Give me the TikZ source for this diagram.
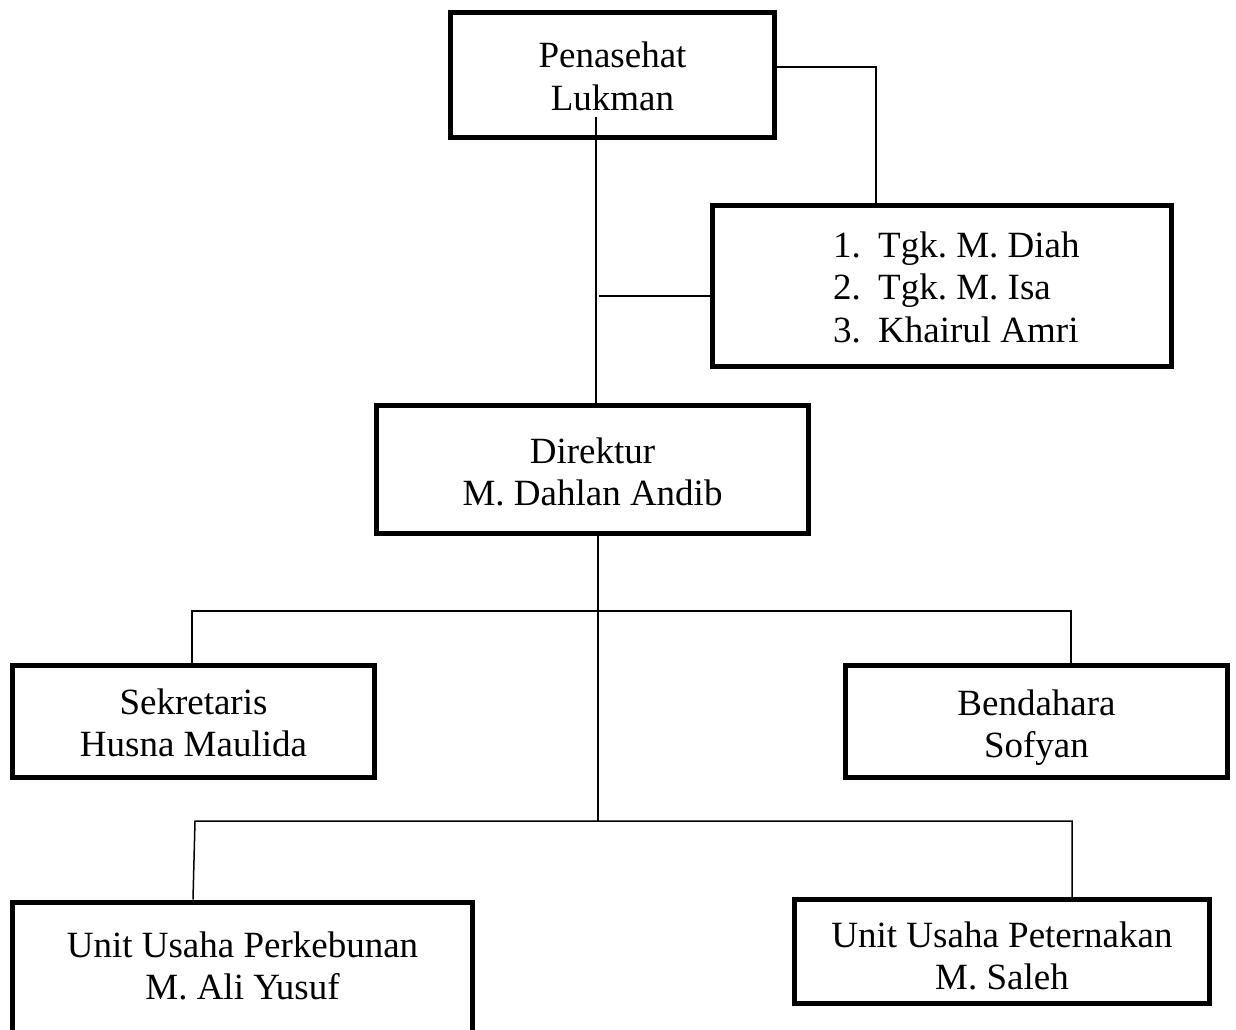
\documentclass[tikz,border=0pt]{standalone}
\usepackage{fontspec}
\setmainfont{Liberation Serif}
\begin{document}
\begin{tikzpicture}[x=1pt,y=-1pt,
  box/.style={draw, line width=5pt, rectangle, inner sep=0pt},
  txt/.style={inner sep=0pt, align=center, font=\fontsize{37}{42.5}\selectfont\frenchspacing},
  conn/.style={line width=1.5pt}]
\useasboundingbox (0,0) rectangle (1236,1030);
\clip (0,0) rectangle (1236,1030);
% boxes
\node[box, minimum width=324pt, minimum height=125pt] (pen) at (612.5,75) {};
\node[box, minimum width=459pt, minimum height=161pt] (mem) at (942,286) {};
\node[box, minimum width=432pt, minimum height=128pt] (dir) at (592.5,469.5) {};
\node[box, minimum width=362pt, minimum height=112pt] (sek) at (193.5,721.5) {};
\node[box, minimum width=382pt, minimum height=112pt] (ben) at (1036.5,721.5) {};
\node[box, minimum width=460pt, minimum height=150pt, anchor=north] (keb) at (242.5,899.5) {};
\node[box, minimum width=415pt, minimum height=104pt] (ter) at (1002,951.5) {};
% texts
\node[txt] (pent) at (612.5,80.75) {\strut Penasehat\\\strut Lukman};
\node[txt, align=left, anchor=west] (memt) at (833,291)
  {\strut\makebox[45pt][l]{1.}Tgk. M. Diah\\\strut\makebox[45pt][l]{2.}Tgk. M. Isa\\\strut\makebox[45pt][l]{3.}Khairul Amri};
\node[txt] (dirt) at (592.5,475.75) {\strut Direktur\\\strut M. Dahlan Andib};
\node[txt] (sekt) at (193.5,726.75) {\strut Sekretaris\\\strut Husna Maulida};
\node[txt] (bent) at (1036.5,727.75) {\strut Bendahara\\\strut Sofyan};
\node[txt] (kebt) at (242.5,969.75) {\strut Unit Usaha Perkebunan\\\strut M. Ali Yusuf};
\node[txt] (tert) at (1002,959.75) {\strut Unit Usaha Peternakan\\\strut M. Saleh};
% connectors
\coordinate (k0) at (596,117);
\coordinate (k1) at (876,67);
\coordinate (k2) at (599,296);
\coordinate (k3) at (598,821);
\coordinate (b1l) at (192,611);
\coordinate (b1r) at (1071,611);
\coordinate (b2l) at (195,821);
\coordinate (b2r) at (1072,821);
\coordinate (b2d) at (193,899.5);
\draw[conn] (k0) -- (k0 |- dir.north);
\draw[conn] (pen.east |- k1) -| (k1 |- mem.north);
\draw[conn] (k2) -- (k2 -| mem.west);
\draw[conn] (k3 |- dir.south) -- (k3);
\draw[conn] (b1l |- sek.north) -- (b1l) -- (b1r) -- (b1r |- ben.north);
\draw[conn] (b2d |- keb.north) -- (b2l) -- (b2r) -- (b2r |- ter.north);
\end{tikzpicture}
\end{document}
